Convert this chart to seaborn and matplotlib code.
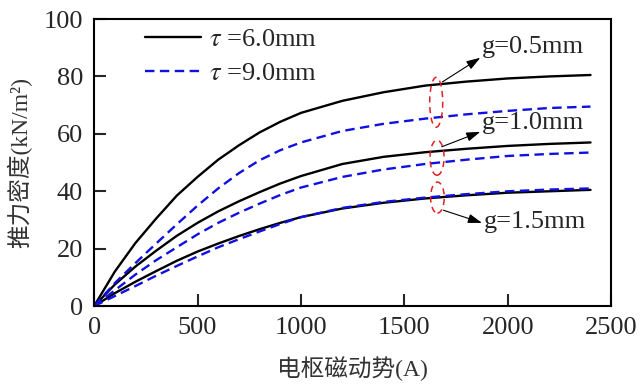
import matplotlib
matplotlib.use("Agg")

import matplotlib.pyplot as plt
import matplotlib.patches as mpatches
from matplotlib.lines import Line2D
import seaborn as sns
import pandas as pd

# ---- data ----
mmf = [0, 100, 200, 300, 400, 500, 600, 700, 800, 900, 1000,
       1200, 1400, 1600, 1800, 2000, 2200, 2400]

t6_g05 = [0, 12, 22, 30.5, 38.5, 45, 51, 56, 60.5, 64.2, 67.3,
          71.5, 74.5, 76.8, 78.2, 79.3, 80, 80.5]
t9_g05 = [0, 8, 15, 21.8, 28.5, 35, 41, 46.3, 50.8, 54.3, 57,
          61, 63.5, 65.3, 66.8, 68, 69, 69.5]
t6_g10 = [0, 7.5, 13.8, 19.3, 24.5, 29, 33, 36.5, 39.7, 42.7, 45.3,
          49.5, 52, 53.6, 54.8, 55.8, 56.5, 57]
t9_g10 = [0, 5.5, 11, 16, 20.5, 25, 29, 32.5, 35.7, 38.7, 41.3,
          45, 47.6, 49.5, 51, 52.3, 53, 53.5]
t6_g15 = [0, 4.5, 8.5, 12.2, 15.8, 19, 21.8, 24.4, 26.8, 29, 31,
          34, 36, 37.5, 38.6, 39.5, 40, 40.5]
t9_g15 = [0, 3.5, 7, 10.6, 14, 17.3, 20.5, 23.3, 26, 28.6, 31,
          34.2, 36.3, 37.8, 39, 40, 40.6, 41]

tau_labels = [r"$\tau$ =6.0mm", r"$\tau$ =9.0mm"]
gap_labels = ["g=0.5mm", "g=1.0mm", "g=1.5mm"]

# ellipse centres / sizes (data units) and label anchors
ell_x = [1654, 1658, 1660]
ell_y = [71, 51.7, 37.8]
ell_w = [63, 68, 66]
ell_h = [17.4, 12.2, 10.8]
arrow_from = [(1684, 78.1), (1681, 55.5), (1689, 33.4)]
arrow_to = [(1867, 86.5), (1867, 60.7), (1875, 29.0)]
label_pos = [(1875, 90.3), (1875, 63.7), (1886, 29.4)]

# ---- long table for seaborn ----
rows = []
for tau, g, ys in [("6", "0.5", t6_g05), ("9", "0.5", t9_g05),
                   ("6", "1.0", t6_g10), ("9", "1.0", t9_g10),
                   ("6", "1.5", t6_g15), ("9", "1.5", t9_g15)]:
    for x, y in zip(mmf, ys):
        rows.append({"mmf": x, "force": y, "tau": tau, "g": g})
df = pd.DataFrame(rows)

# ---- style ----
sns.set_theme(style="ticks")
SERIF = ["Liberation Serif", "Noto Sans CJK SC"]
plt.rcParams.update({
    "font.family": SERIF,
    "mathtext.fontset": "stix",
    "axes.linewidth": 1.5,
    "axes.edgecolor": "black",
})

BLACK = "#000000"
BLUE = "#1010e0"
RED = "#e02020"
FS = 19
DASH = (4, 2.3)

fig = plt.figure(figsize=(6.4, 3.88), dpi=100)
ax = fig.add_axes([0.147, 0.211, 0.808, 0.740])

sns.lineplot(data=df, x="mmf", y="force", hue="tau", style="tau",
             units="g", estimator=None, ax=ax, legend=False,
             palette={"6": BLACK, "9": BLUE},
             dashes={"6": "", "9": DASH}, lw=1.7)

ax.set_xlim(0, 2500)
ax.set_ylim(0, 100)
ax.set_xticks([0, 500, 1000, 1500, 2000, 2500])
ax.set_yticks([0, 20, 40, 60, 80, 100])
ax.tick_params(direction="in", length=8.5, width=1.5, labelsize=FS,
               top=False, right=False, pad=8)
for lab in ax.get_xticklabels() + ax.get_yticklabels():
    lab.set_family("Liberation Serif")

ax.set_xlabel("电枢磁动势(A)", fontsize=17, color="#333333", labelpad=12)
ax.set_ylabel("推力密度(kN/m²)", fontsize=17, color="#333333", labelpad=8)

# legend
handles = [Line2D([], [], color=BLACK, lw=1.7),
           Line2D([], [], color=BLUE, lw=1.7, dashes=DASH)]
ax.legend(handles, tau_labels, loc="upper left",
          bbox_to_anchor=(0.099, 0.97), frameon=False, fontsize=FS,
          handlelength=2.1, handletextpad=0.3, labelspacing=0.4,
          borderaxespad=0, borderpad=0)

# red dashed ellipses, arrows, gap labels
for i in range(3):
    ax.add_patch(mpatches.Ellipse((ell_x[i], ell_y[i]), ell_w[i], ell_h[i],
                                  fill=False, edgecolor=RED, lw=1.1,
                                  linestyle=(0, (4, 3)), zorder=5))
    ax.annotate("", xy=arrow_to[i], xytext=arrow_from[i],
                arrowprops=dict(arrowstyle="-|>,head_length=0.6,head_width=0.2",
                                color="black", lw=0.8, mutation_scale=14,
                                shrinkA=0, shrinkB=0))
    ax.text(label_pos[i][0], label_pos[i][1], gap_labels[i], fontsize=FS,
            va="center", ha="left", family="Liberation Serif")

fig.savefig("out.png", dpi=100)
